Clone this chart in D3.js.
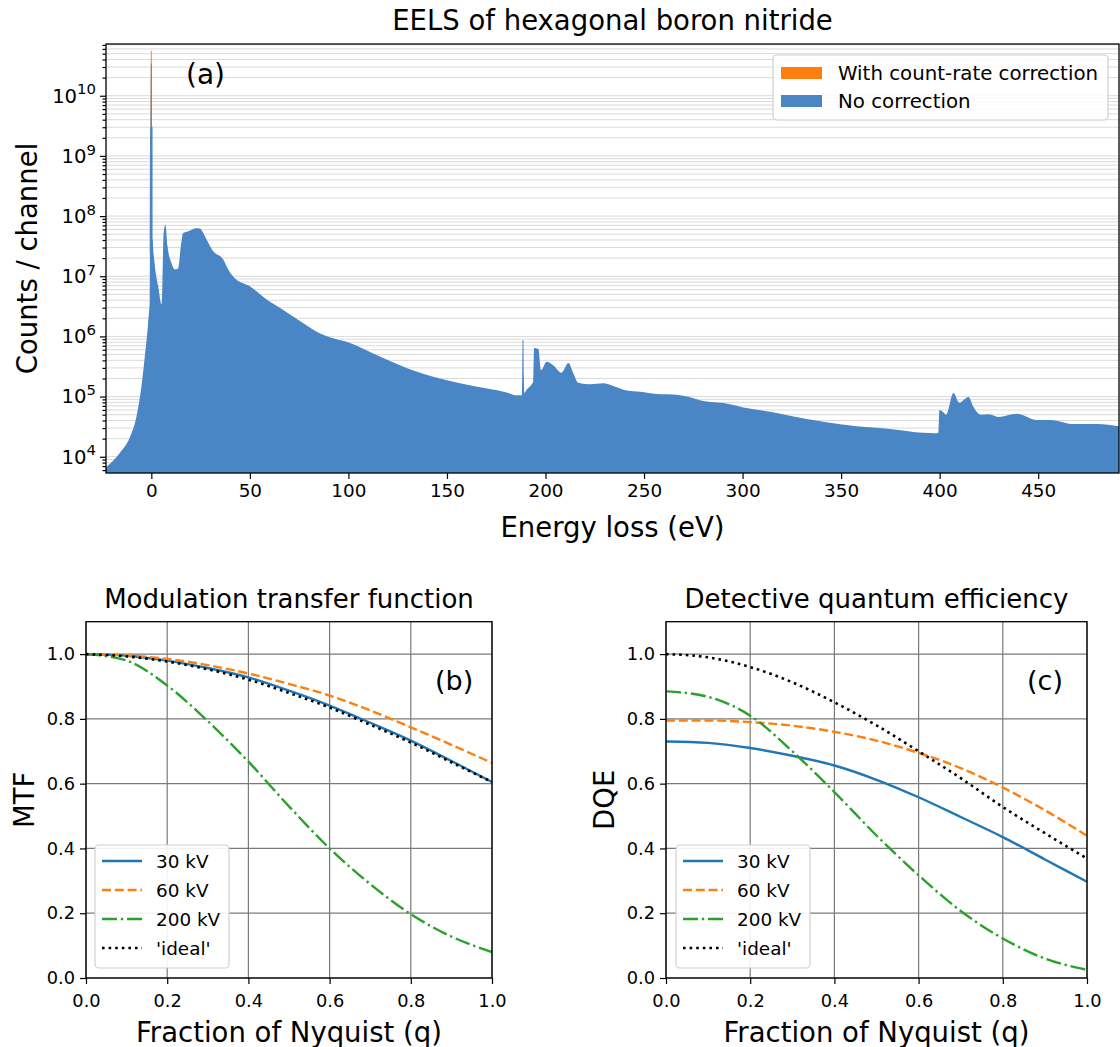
<!DOCTYPE html>
<html>
<head>
<meta charset="utf-8">
<style>
body { margin: 0; background: #fff; }
svg { display: block; font-family: "DejaVu Sans", sans-serif; }
</style>
<script src="https://d3js.org/d3.v7.min.js"></script>
</head>
<body>
<script>
// ---- (a) EELS spectrum ----
var energy = [-23, -16, -10.9, -7.5, -5, -3.3, -1.6, -0.8, -0.6, -0.4, -0.2, 0.2, 0.4, 0.6, 0.75, 1.8, 3.5, 5.2, 6.3, 7.2,
  8.2, 10.2, 11.9, 13.6, 15, 16.1, 18.7, 22.9, 24.6, 28, 31.4, 36.5, 39, 42.4, 50, 58.5, 66.9, 75.4, 83.9, 92.3,
  100.8, 112.6, 129.5, 146.4, 163.3, 180.3, 185.4, 188.0, 188.2, 188.4, 188.8, 189.0, 189.3, 190.4, 193, 193.8, 194.2, 196.4, 197.7, 200.6,
  204, 208.2, 211.6, 214.1, 216.6, 222.6, 229.4, 234.4, 241.2, 248, 256.5, 266.6, 271.7, 278.4, 281.8, 290.3, 300.4, 314, 324, 341,
  358, 374.9, 391.8, 397.7, 399.3, 399.9, 401.6, 403.3, 407, 410, 414.6, 417.1, 420.9, 424.8, 429.9, 439.2, 449.3, 456.1, 467.9, 479.8, 491];
var counts = [6.6e3, 1.15e4, 2.1e4, 4.7e4, 1.5e5, 4.7e5, 1.7e6, 4.1e6, 3.0e9, 3.0e9, 3.4e10, 3.4e10, 3.0e9, 3.0e9, 4.1e7, 1.5e7, 6.8e6, 3.4e6, 5.4e7, 7.2e7,
  3.2e7, 1.66e7, 1.3e7, 1.35e7, 3.2e7, 5.2e7, 5.6e7, 6.3e7, 6.2e7, 4.1e7, 2.6e7, 1.9e7, 1.3e7, 9.3e6, 6.8e6, 4.1e6, 2.75e6, 1.8e6, 1.2e6, 9.3e5,
  7.8e5, 5.2e5, 3.0e5, 2.0e5, 1.5e5, 1.17e5, 1.05e5, 1.05e5, 2.3e5, 8.7e5, 8.7e5, 2.3e5, 1.15e5, 1.3e5, 1.6e5, 1.8e5, 6.4e5, 6.2e5, 2.75e5, 3.8e5,
  3.3e5, 2.5e5, 3.6e5, 2.45e5, 1.7e5, 1.6e5, 1.66e5, 1.5e5, 1.26e5, 1.2e5, 1.1e5, 1.07e5, 1.0e5, 8.7e4, 8.3e4, 7.8e4, 6.6e4, 5.6e4, 4.8e4, 3.8e4,
  3.2e4, 2.9e4, 2.5e4, 2.45e4, 2.5e4, 6.0e4, 5.6e4, 5.0e4, 1.15e5, 7.9e4, 9.8e4, 6.8e4, 5.0e4, 5.1e4, 4.6e4, 5.2e4, 4.1e4, 4.1e4, 3.5e4, 3.5e4, 3.2e4];
// with count-rate correction only differs at the zero-loss peak
var zlpEnergy = [-0.4, -0.2, 0.2, 0.4];
var zlpCorrected = [3.0e9, 5.6e10, 5.6e10, 3.0e9];
var xTicksA = [0, 50, 100, 150, 200, 250, 300, 350, 400, 450];
var yExpA = [4, 5, 6, 7, 8, 9, 10];
var legendA = ["With count-rate correction", "No correction"];

// ---- (b) MTF and (c) DQE ----
var q = [0, 0.1, 0.2, 0.3, 0.4, 0.5, 0.6, 0.7, 0.8, 0.9, 1.0];
var mtf30 = [1.0, 0.995, 0.98, 0.957, 0.928, 0.887, 0.841, 0.788, 0.733, 0.67, 0.605];
var mtf60 = [1.0, 0.996, 0.985, 0.966, 0.94, 0.908, 0.872, 0.826, 0.774, 0.72, 0.664];
var mtf200 = [1.0, 0.98, 0.903, 0.793, 0.668, 0.53, 0.4, 0.29, 0.197, 0.128, 0.08];
var mtfIdeal = [1.0, 0.993, 0.977, 0.953, 0.921, 0.88, 0.835, 0.782, 0.727, 0.666, 0.605];
var dqe30 = [0.73, 0.726, 0.71, 0.686, 0.656, 0.612, 0.558, 0.497, 0.435, 0.366, 0.297];
var dqe60 = [0.795, 0.795, 0.79, 0.779, 0.76, 0.733, 0.695, 0.648, 0.588, 0.518, 0.439];
var dqe200 = [0.885, 0.868, 0.81, 0.7, 0.574, 0.44, 0.317, 0.207, 0.122, 0.06, 0.025];
var dqeIdeal = [1.0, 0.99, 0.96, 0.913, 0.851, 0.78, 0.7, 0.617, 0.528, 0.447, 0.369];
var seriesNames = ["30 kV", "60 kV", "200 kV", "'ideal'"];
var ticksB = [0, 0.2, 0.4, 0.6, 0.8, 1.0];

var colors = ["#1f77b4", "#ff7f0e", "#2ca02c", "#000000"];
var dashes = [null, "9,3.8", "15,3.8,2.4,3.8", "2.6,4"];

var svg = d3.select("body").append("svg")
  .attr("width", 1120).attr("height", 1047);

// ================= panel (a) =================
var A = {left: 106, top: 44, right: 1119, bottom: 473};
var xA = d3.scaleLinear().domain([-23, 491]).range([A.left, A.right]);
var yA = d3.scaleLog().domain([Math.pow(10, 3.73), Math.pow(10, 10.86)]).range([A.bottom, A.top]);

var minorA = [];
for (var e = 3; e <= 10; e++) {
  for (var m = 2; m <= 9; m++) {
    var v = m * Math.pow(10, e);
    if (v > yA.domain()[0] && v < yA.domain()[1]) minorA.push(v);
  }
}
var majorA = yExpA.map(function(d) { return Math.pow(10, d); });

svg.append("clipPath").attr("id", "clipA").append("rect")
  .attr("x", A.left).attr("y", A.top).attr("width", A.right - A.left).attr("height", A.bottom - A.top);

// grid
svg.append("g").selectAll("line").data(minorA.concat(majorA)).enter().append("line")
  .attr("x1", A.left).attr("x2", A.right)
  .attr("y1", function(d) { return yA(d); }).attr("y2", function(d) { return yA(d); })
  .attr("stroke", "#dadada").attr("stroke-width", 1);

var pts = energy.map(function(d, i) { return [d, counts[i]]; });
var ptsZ = zlpEnergy.map(function(d, i) { return [d, zlpCorrected[i]]; });
var areaA = d3.area()
  .x(function(d) { return xA(d[0]); })
  .y0(A.bottom)
  .y1(function(d) { return yA(d[1]); })
  .curve(d3.curveMonotoneX);

var gA = svg.append("g").attr("clip-path", "url(#clipA)");
gA.append("path").datum(ptsZ).attr("d", areaA).attr("fill", "#ff7f0e");
gA.append("path").datum(pts).attr("d", areaA).attr("fill", "#4a85c6");

// frame
svg.append("rect").attr("x", A.left).attr("y", A.top)
  .attr("width", A.right - A.left).attr("height", A.bottom - A.top)
  .attr("fill", "none").attr("stroke", "#000").attr("stroke-width", 1.3);

// axes
var axXA = svg.append("g").attr("transform", "translate(0," + A.bottom + ")")
  .call(d3.axisBottom(xA).tickValues(xTicksA).tickSize(6).tickPadding(5).tickFormat(d3.format("d")));
var axYA = svg.append("g").attr("transform", "translate(" + A.left + ",0)")
  .call(d3.axisLeft(yA).tickValues(majorA).tickSize(6).tickPadding(4).tickFormat(function() { return ""; }));
svg.append("g").attr("transform", "translate(" + A.left + ",0)")
  .call(d3.axisLeft(yA).tickValues(minorA).tickSize(3.5).tickFormat(function() { return ""; }))
  .call(function(g) { g.select(".domain").remove(); });

axYA.selectAll(".tick text").each(function(d) {
  var t = d3.select(this);
  t.text("10");
  t.append("tspan").attr("dy", "-0.55em").attr("font-size", "0.76em").text(Math.round(Math.log10(d)));
});

axXA.selectAll("text").attr("font-size", 18.4);
axYA.selectAll("text").attr("font-size", 19.6);
[axXA, axYA].forEach(function(g) {
  g.select(".domain").remove();
  g.selectAll("text").attr("font-family", "DejaVu Sans").attr("fill", "#000");
});
svg.selectAll(".tick line").attr("stroke", "#000").attr("stroke-width", 1.2);

svg.append("text").attr("x", (A.left + A.right) / 2).attr("y", 30)
  .attr("text-anchor", "middle").attr("font-size", 27.5).text("EELS of hexagonal boron nitride");
svg.append("text").attr("x", (A.left + A.right) / 2).attr("y", 537)
  .attr("text-anchor", "middle").attr("font-size", 27.5).text("Energy loss (eV)");
svg.append("text").attr("transform", "translate(37," + ((A.top + A.bottom) / 2) + ") rotate(-90)")
  .attr("text-anchor", "middle").attr("font-size", 27.5).text("Counts / channel");
svg.append("text").attr("x", 186).attr("y", 84).attr("font-size", 28).text("(a)");

// legend (a)
var lgA = svg.append("g");
lgA.append("rect").attr("x", 773).attr("y", 55).attr("width", 335).attr("height", 65).attr("rx", 4)
  .attr("fill", "#fff").attr("fill-opacity", 0.85).attr("stroke", "#d0d0d0").attr("stroke-width", 1.2);
legendA.forEach(function(name, i) {
  lgA.append("rect").attr("x", 781).attr("y", 67 + i * 28).attr("width", 41).attr("height", 12)
    .attr("fill", i === 0 ? "#ff7f0e" : "#4a85c6");
  lgA.append("text").attr("x", 838).attr("y", 80 + i * 28).attr("font-size", 19.8).text(name);
});

// ================= panels (b) and (c) =================
function drawPanel(left, right, title, ylabel, tag, tagX, data, lgX) {
  var top = 621.7, bottom = 978;
  var x = d3.scaleLinear().domain([0, 1]).range([left, right]);
  var y = d3.scaleLinear().domain([0, 1.1]).range([bottom, top]);
  var g = svg.append("g");

  // grid
  g.append("g").selectAll("line").data(ticksB).enter().append("line")
    .attr("x1", function(d) { return x(d); }).attr("x2", function(d) { return x(d); })
    .attr("y1", top).attr("y2", bottom).attr("stroke", "#7a7a7a").attr("stroke-width", 1.2);
  g.append("g").selectAll("line").data(ticksB).enter().append("line")
    .attr("y1", function(d) { return y(d); }).attr("y2", function(d) { return y(d); })
    .attr("x1", left).attr("x2", right).attr("stroke", "#7a7a7a").attr("stroke-width", 1.2);

  var line = d3.line()
    .x(function(d, i) { return x(q[i]); })
    .y(function(d) { return y(d); })
    .curve(d3.curveMonotoneX);

  data.forEach(function(s, k) {
    g.append("path").datum(s).attr("d", line).attr("fill", "none")
      .attr("stroke", colors[k]).attr("stroke-width", k === 3 ? 2.6 : 2.4)
      .attr("stroke-dasharray", dashes[k]);
  });

  g.append("rect").attr("x", left).attr("y", top).attr("width", right - left).attr("height", bottom - top)
    .attr("fill", "none").attr("stroke", "#000").attr("stroke-width", 1.3);

  var ax = g.append("g").attr("transform", "translate(0," + bottom + ")")
    .call(d3.axisBottom(x).tickValues(ticksB).tickSize(6).tickPadding(10).tickFormat(d3.format(".1f")));
  var ay = g.append("g").attr("transform", "translate(" + left + ",0)")
    .call(d3.axisLeft(y).tickValues(ticksB).tickSize(6).tickPadding(5).tickFormat(d3.format(".1f")));
  [ax, ay].forEach(function(a) {
    a.select(".domain").remove();
    a.selectAll("text").attr("font-size", 17.8).attr("font-family", "DejaVu Sans").attr("fill", "#000");
    a.selectAll(".tick line").attr("stroke", "#000").attr("stroke-width", 1.2);
  });

  g.append("text").attr("x", (left + right) / 2).attr("y", 608)
    .attr("text-anchor", "middle").attr("font-size", 26).text(title);
  g.append("text").attr("x", (left + right) / 2).attr("y", 1042)
    .attr("text-anchor", "middle").attr("font-size", 27.5).text("Fraction of Nyquist (q)");
  g.append("text").attr("transform", "translate(" + (left - 52) + "," + ((top + bottom) / 2) + ") rotate(-90)")
    .attr("text-anchor", "middle").attr("font-size", 27.5).text(ylabel);
  g.append("text").attr("x", tagX).attr("y", 690).attr("font-size", 27).text(tag);

  // legend
  var lg = g.append("g");
  lg.append("rect").attr("x", lgX).attr("y", 845).attr("width", 134).attr("height", 123).attr("rx", 4)
    .attr("fill", "#fff").attr("fill-opacity", 0.9).attr("stroke", "#d0d0d0").attr("stroke-width", 1.2);
  seriesNames.forEach(function(name, k) {
    var yy = 861 + k * 29;
    lg.append("line").attr("x1", lgX + 7).attr("x2", lgX + 47).attr("y1", yy).attr("y2", yy)
      .attr("stroke", colors[k]).attr("stroke-width", k === 3 ? 2.6 : 2.4).attr("stroke-dasharray", dashes[k]);
    lg.append("text").attr("x", lgX + 61).attr("y", yy + 6.5).attr("font-size", 18.4).text(name);
  });
}

drawPanel(86, 492, "Modulation transfer function", "MTF", "(b)", 435,
  [mtf30, mtf60, mtf200, mtfIdeal], 95);
drawPanel(666, 1087, "Detective quantum efficiency", "DQE", "(c)", 1027,
  [dqe30, dqe60, dqe200, dqeIdeal], 676);
</script>
</body>
</html>
